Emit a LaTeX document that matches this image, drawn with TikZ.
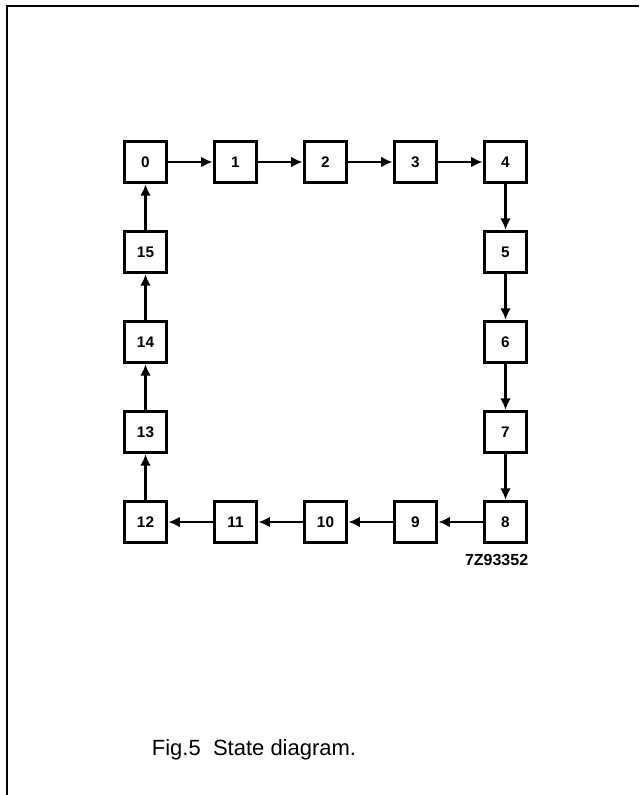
\documentclass[tikz,border=0pt]{standalone}
\usepackage{fontspec}
\setmainfont{Liberation Sans}
\usepackage{tikz}
\usetikzlibrary{arrows.meta, positioning}

\begin{document}
\begin{tikzpicture}[x=0.75pt, y=-0.75pt, node distance=67.5pt,
        state/.style={draw, line width=2.4pt, minimum width=32pt, minimum height=31pt, inner sep=0pt, font=\fontsize{11.5pt}{13pt}\selectfont\bfseries},
        flow/.style={->, line width=2pt},
        >={Latex[length=8.5pt, width=8pt]}]
        \useasboundingbox (0,0) rectangle (639,795);
        % frame
        \draw [line width=1.1pt] (7,795) -- (7,6) -- (639,6);
        \node (s0) [state] at (145.5,162) {0};
        \node (s1) [state, right of=s0] {1};
        \node (s2) [state, right of=s1] {2};
        \node (s3) [state, right of=s2] {3};
        \node (s4) [state, right of=s3] {4};
        \node (s5) [state, below of=s4] {5};
        \node (s6) [state, below of=s5] {6};
        \node (s7) [state, below of=s6] {7};
        \node (s8) [state, below of=s7] {8};
        \node (s9) [state, left of=s8] {9};
        \node (s10) [state, left of=s9] {10};
        \node (s11) [state, left of=s10] {11};
        \node (s12) [state, left of=s11] {12};
        \node (s13) [state, above of=s12] {13};
        \node (s14) [state, above of=s13] {14};
        \node (s15) [state, above of=s14] {15};
        \draw [flow] (s0) -- (s1);
        \draw [flow] (s1) -- (s2);
        \draw [flow] (s2) -- (s3);
        \draw [flow] (s3) -- (s4);
        \draw [flow] (s4) -- (s5);
        \draw [flow] (s5) -- (s6);
        \draw [flow] (s6) -- (s7);
        \draw [flow] (s7) -- (s8);
        \draw [flow] (s8) -- (s9);
        \draw [flow] (s9) -- (s10);
        \draw [flow] (s10) -- (s11);
        \draw [flow] (s11) -- (s12);
        \draw [flow] (s12) -- (s13);
        \draw [flow] (s13) -- (s14);
        \draw [flow] (s14) -- (s15);
        \draw [flow] (s15) -- (s0);
        \node (ref) [anchor=north east, inner sep=0pt, font=\fontsize{12pt}{14pt}\selectfont\bfseries] at ([yshift=-7pt]s8.south east) {7Z93352};
        \node (cap) [font=\fontsize{16.5pt}{19pt}\selectfont] at (254,750) {Fig.5~~State diagram.};
      \end{tikzpicture}
\end{document}
